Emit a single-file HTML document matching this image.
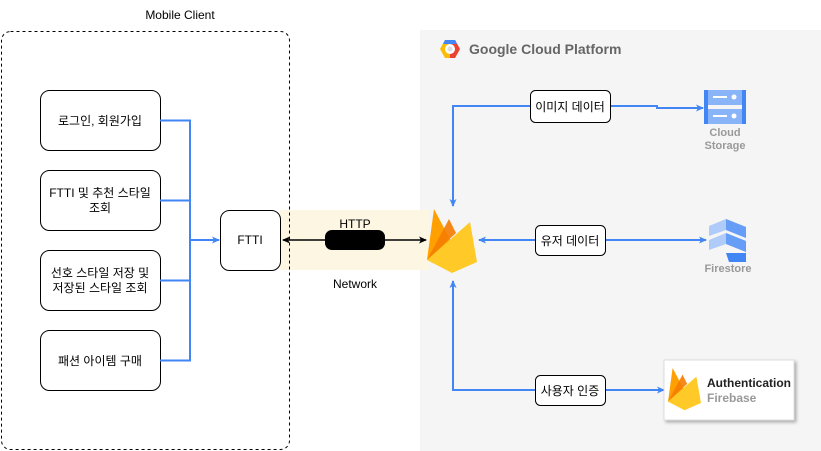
<!DOCTYPE html>
<html><head><meta charset="utf-8"><style>
body{margin:0;background:#fff;}
svg{display:block;font-family:"Liberation Sans","Noto Sans CJK KR",sans-serif;}
</style></head><body>
<svg width="821" height="451" viewBox="0 0 821 451" xmlns="http://www.w3.org/2000/svg">
<defs>
<marker id="ab" markerWidth="8" markerHeight="8" refX="7" refY="4" orient="auto" markerUnits="userSpaceOnUse"><path d="M0,0.5 L8,4 L0,7.5 L2,4 Z" fill="#4285f4"/></marker>
<marker id="ak" markerWidth="8" markerHeight="8" refX="7" refY="4" orient="auto-start-reverse" markerUnits="userSpaceOnUse"><path d="M0,0.5 L8,4 L0,7.5 L2,4 Z" fill="#000"/></marker>
<filter id="sh"><feDropShadow dx="2" dy="2" stdDeviation="1.5" flood-opacity="0.3"/></filter>
<g id="fb">
<path d="M0,51 L7,0 L25,34 Z" fill="#ffa000"/>
<path d="M0,51 L22,10 L29,24 Z" fill="#f57c00" opacity="0.9"/>
<path d="M0,51 L43,13 L50,53 L25,64 Z" fill="#ffca28"/>
</g>
</defs>
<!-- GCP background -->
<rect x="420" y="30" width="401" height="421" fill="#f5f5f5"/>
<!-- network band -->
<rect x="280" y="210" width="150" height="60" fill="#fdf6e3"/>
<!-- Mobile client -->
<rect x="1.5" y="31.5" width="288" height="418" rx="9" fill="none" stroke="#000" stroke-dasharray="3,3"/>
<text x="180" y="19" font-size="12" text-anchor="middle" fill="#000">Mobile Client</text>
<!-- left boxes -->
<g fill="#fff" stroke="#000">
<rect x="40.5" y="90.5" width="120" height="60" rx="9"/>
<rect x="40.5" y="170.5" width="120" height="60" rx="9"/>
<rect x="40.5" y="250.5" width="120" height="60" rx="9"/>
<rect x="40.5" y="330.5" width="120" height="60" rx="9"/>
<rect x="220.5" y="210.5" width="60" height="60" rx="9"/>
</g>
<g font-size="12" text-anchor="middle" fill="#000">
<text x="100" y="125">로그인, 회원가입</text>
<text x="100" y="197">FTTI 및 추천 스타일</text>
<text x="100" y="212">조회</text>
<text x="100" y="277">선호 스타일 저장 및</text>
<text x="100" y="292">저장된 스타일 조회</text>
<text x="100" y="365">패션 아이템 구매</text>
<text x="250" y="244">FTTI</text>
</g>
<g stroke="#4285f4" stroke-width="2" fill="none">
<path d="M160,120.5 H190 V360.5 H160"/>
<path d="M160,200.5 H190 M160,280.5 H190"/>
<path d="M190,240 H219" marker-end="url(#ab)"/>
</g>
<!-- HTTP -->
<line x1="283" y1="240" x2="426" y2="240" stroke="#000" stroke-width="1.5" marker-start="url(#ak)" marker-end="url(#ak)"/>
<rect x="325" y="230" width="60" height="20" rx="7" fill="#000"/>
<text x="355" y="228" font-size="12" text-anchor="middle">HTTP</text>
<text x="355" y="288" font-size="12" text-anchor="middle">Network</text>
<!-- GCP title -->
<g transform="translate(440,40)">
<path d="M5,0 H15 L20,9 L15,18 H5 L0,9 Z" fill="#fbbc05"/>
<path d="M10,0 H15 L20,9 L15,18 H10 Z" fill="#ea4335"/>
<path d="M5,0 H15 L17,4 H3 Z" fill="#4285f4"/>
<circle cx="10" cy="9" r="5" fill="#fff"/>
<circle cx="10" cy="9" r="2.5" fill="#ddd"/>
</g>
<text x="469" y="54" font-size="14" font-weight="bold" fill="#666">Google Cloud Platform</text>
<!-- firebase -->
<use href="#fb" transform="translate(427,209)"/>
<!-- connectors -->
<g stroke="#4285f4" stroke-width="2" fill="none">
<path d="M530,106 H453 V206" marker-end="url(#ab)"/>
<path d="M610,106 H657 V108 H703" marker-end="url(#ab)"/>
<path d="M535,240 H479" marker-end="url(#ab)"/>
<path d="M605,240 H706" marker-end="url(#ab)"/>
<path d="M535,390 H453 V281" marker-end="url(#ab)"/>
<path d="M605,390 H664" marker-end="url(#ab)"/>
</g>
<g fill="#fff" stroke="#000">
<rect x="530.5" y="90.5" width="80" height="32" rx="5"/>
<rect x="535.5" y="225.5" width="70" height="30" rx="5"/>
<rect x="535.5" y="375.5" width="70" height="30" rx="5"/>
</g>
<g font-size="12" text-anchor="middle">
<text x="570" y="111">이미지 데이터</text>
<text x="570" y="245">유저 데이터</text>
<text x="570" y="395">사용자 인증</text>
</g>
<!-- cloud storage -->
<rect x="704" y="90" width="42" height="15" fill="#8ab4f8"/>
<rect x="704" y="109" width="42" height="15" fill="#8ab4f8"/>
<rect x="704" y="90" width="4" height="34" fill="#4285f4"/>
<rect x="742" y="90" width="4" height="34" fill="#4285f4"/>
<rect x="713" y="96" width="14" height="2" fill="#fff"/><circle cx="734" cy="97" r="2.5" fill="#fff"/>
<rect x="713" y="115" width="14" height="2" fill="#fff"/><circle cx="734" cy="116" r="2.5" fill="#fff"/>
<text x="725" y="136" font-size="11" font-weight="bold" fill="#999" text-anchor="middle">Cloud</text>
<text x="725" y="149" font-size="11" font-weight="bold" fill="#999" text-anchor="middle">Storage</text>
<!-- firestore -->
<path d="M709,226 L726,219 L746,227 V238 L726,230 L709,236 Z" fill="#aecbfa"/>
<path d="M709,240 L726,233 L746,241 V252 L726,244 L709,250 Z" fill="#aecbfa"/>
<path d="M726,219 L746,227 V238 L726,230 Z" fill="#669df6"/>
<path d="M726,233 L746,241 V252 L726,244 Z" fill="#669df6"/>
<path d="M726,253 L746,253 L746,262 L729,262 Z" fill="#4285f4"/>
<text x="728" y="272" font-size="11" font-weight="bold" fill="#999" text-anchor="middle">Firestore</text>
<!-- auth card -->
<rect x="664" y="360" width="130" height="60" fill="#fff" stroke="#ddd" filter="url(#sh)"/>
<use href="#fb" transform="translate(668,368) scale(0.66)"/>
<text x="707" y="387" font-size="12" font-weight="bold" fill="#222">Authentication</text>
<text x="707" y="402" font-size="12" font-weight="bold" fill="#999">Firebase</text>
</svg>
</body></html>
